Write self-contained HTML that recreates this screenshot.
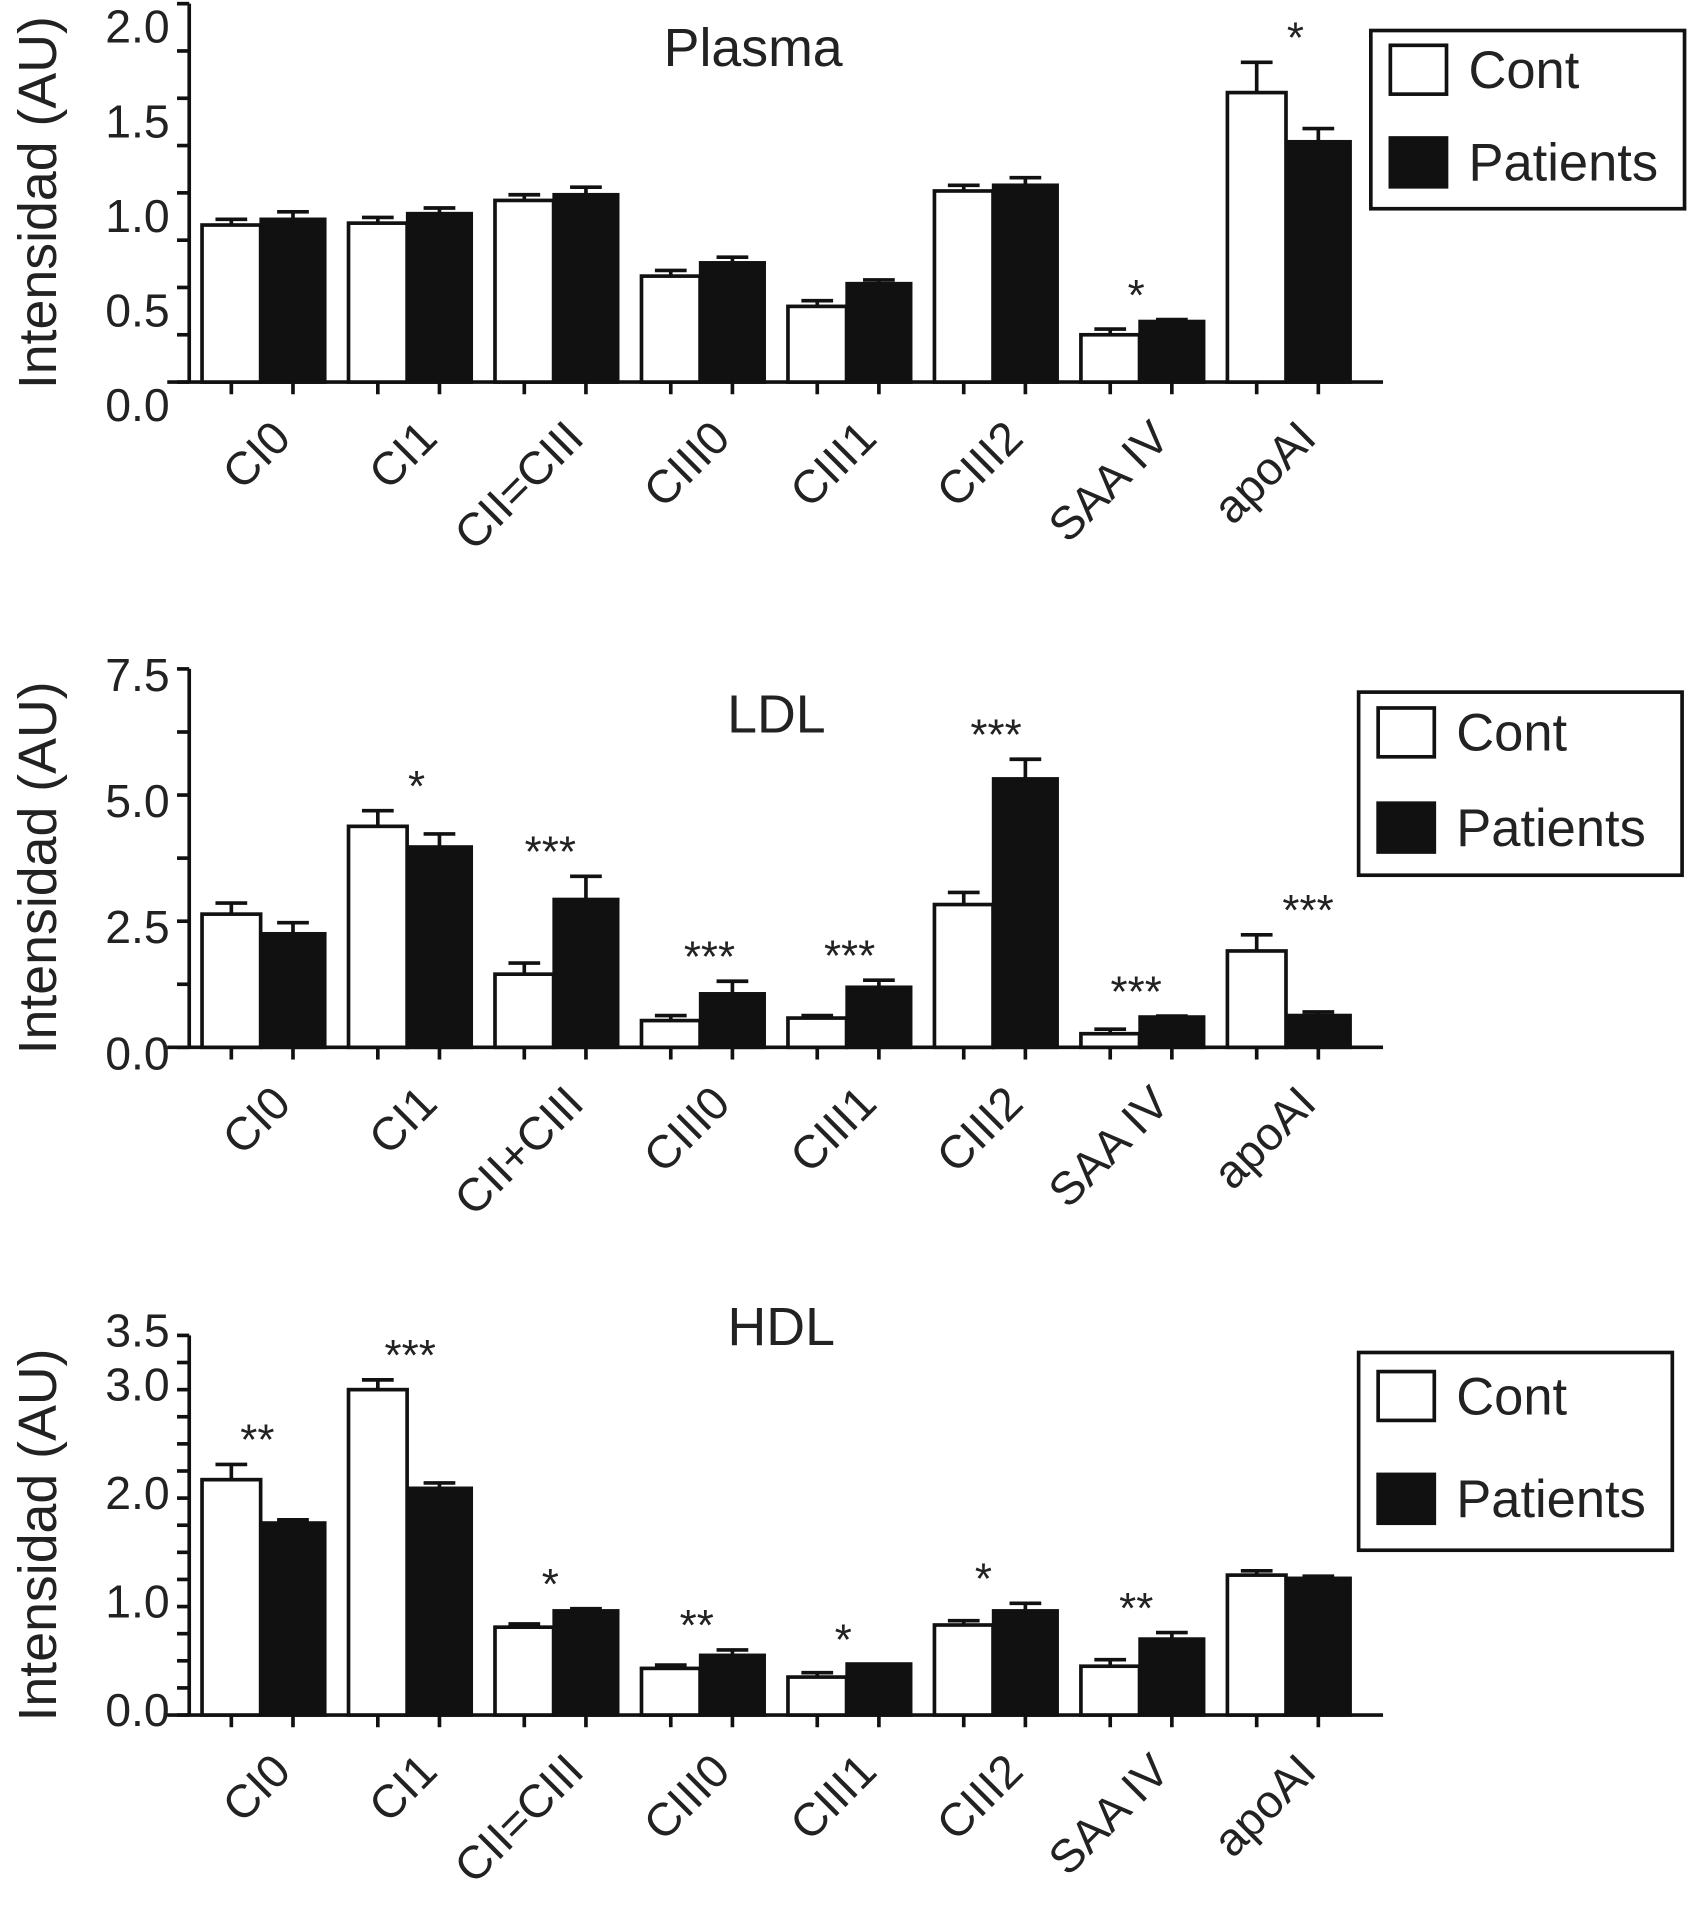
<!DOCTYPE html>
<html><head><meta charset="utf-8"><style>
html,body{margin:0;padding:0;background:#fff;}
svg{display:block;font-family:"Liberation Sans",Arial,sans-serif;}
</style></head><body>
<svg id="fig" width="1687" height="1914" viewBox="0 0 1382 1568" xmlns="http://www.w3.org/2000/svg"></svg>
<script>
const categoriesPlasma = ["CI0","CI1","CII=CIII","CIII0","CIII1","CIII2","SAA IV","apoAI"];
const categoriesLDL = ["CI0","CI1","CII+CIII","CIII0","CIII1","CIII2","SAA IV","apoAI"];
const categoriesHDL = ["CI0","CI1","CII=CIII","CIII0","CIII1","CIII2","SAA IV","apoAI"];

const plasmaCont = [0.83,0.84,0.96,0.56,0.40,1.01,0.25,1.53];
const plasmaContErr = [0.03,0.03,0.03,0.03,0.03,0.03,0.03,0.16];
const plasmaPat = [0.86,0.89,0.99,0.63,0.52,1.04,0.32,1.27];
const plasmaPatErr = [0.04,0.03,0.04,0.03,0.02,0.04,0.01,0.07];
const plasmaStars = ["","","","","","","*|0.4","*|0.6"];
const plasmaTicks = ["0.0","0.5","1.0","1.5","2.0"];

const ldlCont = [2.64,4.38,1.45,0.53,0.58,2.83,0.27,1.91];
const ldlContErr = [0.22,0.31,0.22,0.10,0.05,0.24,0.09,0.32];
const ldlPat = [2.25,3.97,2.93,1.06,1.19,5.32,0.60,0.63];
const ldlPatErr = [0.22,0.26,0.46,0.25,0.14,0.39,0.02,0.07];
const ldlStars = ["","*|0.6","***|0.4","***|0.6","***|0.5","***|0.5","***|0.4","***|0.8"];
const ldlTicks = ["0.0","2.5","5.0","7.5"];

const hdlCont = [2.17,3.00,0.81,0.43,0.35,0.83,0.45,1.29];
const hdlContErr = [0.14,0.09,0.03,0.03,0.04,0.04,0.06,0.04];
const hdlPat = [1.77,2.09,0.96,0.55,0.47,0.96,0.70,1.26];
const hdlPatErr = [0.03,0.05,0.02,0.05,0.0,0.07,0.06,0.02];
const hdlStars = ["**|0.4","***|0.5","*|0.4","**|0.4","*|0.4","*|0.3","**|0.4",""];
const hdlTicks = ["0.0","1.0","2.0","3.0","3.5"];

const svg = document.getElementById('fig');
const NS = "http://www.w3.org/2000/svg";
function mk(tag, attrs, parent){
  const e = document.createElementNS(NS, tag);
  for (const k in attrs) e.setAttribute(k, attrs[k]);
  (parent||svg).appendChild(e);
  return e;
}

function panel(cfg){
  const g = mk('g', {});
  
  
  const y = v => cfg.base - (v / cfg.max) * (cfg.base - cfg.top);
  const gx = i => 164 + 120 * i;
  const ax = mk('line', {x1:155,y1:cfg.top,x2:155,y2:cfg.base,stroke:'#111','stroke-width':3}, g);
  
  
  for (let v = 0; v <= cfg.max + 1e-9; v += cfg.minor) {
    mk('line', {x1:145,y1:y(v),x2:155,y2:y(v),stroke:'#111','stroke-width':3}, g);
  }
  cfg.ticks.forEach(t => {
    const tl = mk('text', {x:139,y:y(parseFloat(t)) + cfg.labOff + 13,'font-size':38,'text-anchor':'end',fill:'#222'}, g);
    tl.textContent = t;
    
    
  });
  const yt = mk('text', {x:0,y:0,'font-size':44,'text-anchor':'middle',fill:'#222',transform:`translate(46,${(cfg.top+cfg.base)/2 + 8}) rotate(-90)`}, g);
  yt.textContent = 'Intensidad (AU)';
  
  
  const xa = mk('line', {x1:137,y1:cfg.base,x2:1133,y2:cfg.base,stroke:'#111','stroke-width':3}, g);
  
  
  cfg.cats.forEach((c, i) => {
    const x0 = gx(i);
    [[cfg.cont, cfg.contErr, '#fff', x0 + 1.5, 48, 'cont'], [cfg.pat, cfg.patErr, '#111', x0 + 50, 52, 'patients']].forEach(([vals, errs, fill, bx, bw, nm]) => {
      const v = vals[i], e = errs[i];
      const cx = bx + bw / 2;
      if (e > 0) {
        mk('line', {x1:cx,y1:y(v),x2:cx,y2:y(v+e),stroke:'#111','stroke-width':3}, g);
        mk('line', {x1:cx-13,y1:y(v+e),x2:cx+13,y2:y(v+e),stroke:'#111','stroke-width':3}, g);
      }
      const r = mk('rect', {x:bx,y:y(v),width:bw,height:cfg.base - y(v),fill:fill,stroke:'#111','stroke-width':3}, g);
      
      
      mk('line', {x1:cx,y1:cfg.base,x2:cx,y2:cfg.base+10,stroke:'#111','stroke-width':3}, g);
    });
    const s = cfg.stars[i];
    if (s) {
      const [txt, pos] = s.split('|');
      const p = parseFloat(pos);
      const top = Math.max(cfg.cont[i] + cfg.contErr[i], cfg.pat[i] + cfg.patErr[i]);
      const sx = x0 + 26 + p * 52;
      const st = mk('text', {x:sx,y:y(top) - 8,'font-size':36,'text-anchor':'middle',fill:'#222'}, g);
      st.textContent = txt;
      
      
    }
    const lx = x0 + 76, ly = cfg.base + 48;
    const cl = mk('text', {x:0,y:0,'font-size':38,'text-anchor':'end',fill:'#222',transform:`translate(${lx},${ly}) rotate(-45)`}, g);
    cl.textContent = c;
    
    
  });
  const ti = mk('text', {x:cfg.titleX,y:cfg.titleY,'font-size':44,'text-anchor':'middle',fill:'#222'}, g);
  ti.textContent = cfg.title;
  
  
  const L = cfg.leg;
  const lg = mk('g', {}, g);
  
  
  mk('rect', {x:L[0],y:L[1],width:L[2],height:L[3],fill:'#fff',stroke:'#111','stroke-width':3}, lg);
  [['Cont','#fff',0.22],['Patients','#111',0.74]].forEach(([t, f, fr]) => {
    const cy = L[1] + L[3] * fr;
    mk('rect', {x:L[0]+16,y:cy-20,width:46,height:40,fill:f,stroke:'#111','stroke-width':3}, lg);
    const lt = mk('text', {x:L[0]+80,y:cy+15,'font-size':43,fill:'#222'}, lg);
    lt.textContent = t;
    
    
  });
}

panel({name:'plasma',title:'Plasma',titleX:617,titleY:54,top:3,base:313,max:2.0,minor:0.25,labOff:19,
  ticks:plasmaTicks,cats:categoriesPlasma,cont:plasmaCont,contErr:plasmaContErr,pat:plasmaPat,patErr:plasmaPatErr,stars:plasmaStars,
  leg:[1123,25,257,146]});
panel({name:'ldl',title:'LDL',titleX:636,titleY:600,top:548,base:858,max:7.5,minor:1.25,labOff:5,
  ticks:ldlTicks,cats:categoriesLDL,cont:ldlCont,contErr:ldlContErr,pat:ldlPat,patErr:ldlPatErr,stars:ldlStars,
  leg:[1113,567,265,150]});
panel({name:'hdl',title:'HDL',titleX:640,titleY:1102,top:1094,base:1405,max:3.5,minor:0.25,labOff:-4,
  ticks:hdlTicks,cats:categoriesHDL,cont:hdlCont,contErr:hdlContErr,pat:hdlPat,patErr:hdlPatErr,stars:hdlStars,
  leg:[1113,1108,257,162]});
</script>
</body></html>
